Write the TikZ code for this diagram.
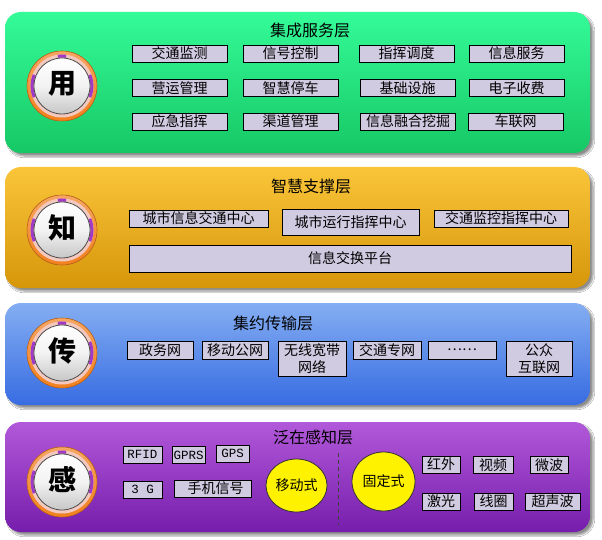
\documentclass[tikz,border=0pt]{standalone}
\usepackage{fontspec}
\newfontfamily\cjk{Noto Sans CJK SC}
\newfontfamily\monof{Liberation Mono}
\usetikzlibrary{shadows.blur,shapes.geometric}
\definecolor{boxfill}{RGB}{209,203,225}
\definecolor{gtop}{RGB}{52,251,152}
\definecolor{gbot}{RGB}{22,200,101}
\definecolor{otop}{RGB}{250,197,58}
\definecolor{obot}{RGB}{214,150,10}
\definecolor{btop}{RGB}{132,174,242}
\definecolor{bbot}{RGB}{56,108,226}
\definecolor{ptop}{RGB}{178,88,218}
\definecolor{pbot}{RGB}{118,30,172}
\definecolor{ringor}{RGB}{242,128,30}
\definecolor{ringpale}{RGB}{243,200,190}
\definecolor{ringpur}{RGB}{160,56,200}
\tikzset{
  layer/.style={rectangle, rounded corners=16pt, inner sep=0pt,
    blur shadow={shadow xshift=3pt, shadow yshift=-3pt, shadow blur steps=6, shadow opacity=45}},
  title/.style={font=\cjk\fontsize{16}{18}\selectfont, inner sep=0pt},
  box/.style={draw=black, line width=0.9pt, fill=boxfill, inner sep=0pt,
    minimum height=17pt, align=center, font=\cjk\fontsize{14}{17}\selectfont},
  mbox/.style={box, font=\monof\fontsize{12.5}{14}\selectfont},
  ell/.style={ellipse, draw=black!80, line width=0.8pt, fill=yellow, inner sep=0pt,
    font=\cjk\fontsize{14}{16}\selectfont},
  emblem/.pic={
    \fill[top color=ringor!70!white, bottom color=ringor] (0,0) circle (35);
    \draw[ringor!80!black, line width=0.6pt] (0,0) circle (35);
    \fill[ringpale] (0,0) circle (31.5);
    \draw[ringpur, line width=3pt] (-22:30) arc[start angle=-22, end angle=22, radius=30];
    \draw[ringpur, line width=3pt] (158:30) arc[start angle=158, end angle=202, radius=30];
    \draw[ringpur, line width=3pt] (262:30) arc[start angle=262, end angle=278, radius=30];
    \shade[top color=white, bottom color=black!22, middle color=white!95!black] (0,0) circle (28);
    \draw[black!70, line width=0.8pt] (0,0) circle (28);
    \node[font=\cjk\bfseries\fontsize{28}{28}\selectfont, inner sep=0pt] (-c) at (0,-2) {#1};
  }
}
\begin{document}
\begin{tikzpicture}[x=1pt,y=-1pt]
\useasboundingbox (0,0) rectangle (602,540);
\fill[white] (0,0) rectangle (602,540);

% ---------- layer 1 ----------
\node[layer, top color=gtop, bottom color=gbot, minimum width=585pt, minimum height=141pt] (L1) at (297.5,82.5) {};
\pic (e1) at (62,86) {emblem=用};
\node[title] (T1) at (310,30) {集成服务层};
\node[box, minimum width=95pt] (a11) at (179.5,53.5) {交通监测};
\node[box, minimum width=95pt] (a12) at (290.5,53.5) {信号控制};
\node[box, minimum width=95pt] (a13) at (406.5,53.5) {指挥调度};
\node[box, minimum width=95pt] (a14) at (516.5,53.5) {信息服务};
\node[box, minimum width=95pt] (a21) at (179.5,88) {营运管理};
\node[box, minimum width=95pt] (a22) at (290.5,88) {智慧停车};
\node[box, minimum width=95pt] (a23) at (407.5,88) {基础设施};
\node[box, minimum width=95pt] (a24) at (516.5,88) {电子收费};
\node[box, minimum width=95pt] (a31) at (179.5,121.5) {应急指挥};
\node[box, minimum width=95pt] (a32) at (290.5,121.5) {渠道管理};
\node[box, minimum width=95pt] (a33) at (408,121.5) {信息融合挖掘};
\node[box, minimum width=95pt] (a34) at (515.5,121.5) {车联网};

% ---------- layer 2 ----------
\node[layer, top color=otop, bottom color=obot, minimum width=585pt, minimum height=121pt] (L2) at (297.5,227.5) {};
\pic (e2) at (62,230) {emblem=知};
\node[title] (T2) at (311,186) {智慧支撑层};
\node[box, minimum width=139pt] (b1) at (198.5,218.5) {城市信息交通中心};
\node[box, minimum width=137pt, minimum height=26pt] (b2) at (350.5,222) {城市运行指挥中心};
\node[box, minimum width=134pt] (b3) at (501,218.5) {交通监控指挥中心};
\node[box, minimum width=442pt, minimum height=27pt] (b4) at (350,258.5) {信息交换平台};

% ---------- layer 3 ----------
\node[layer, top color=btop, bottom color=bbot, minimum width=585pt, minimum height=102pt] (L3) at (297.5,354) {};
\pic (e3) at (62,353) {emblem=传};
\node[title] (T3) at (273,323) {集约传输层};
\node[box, minimum width=66pt, minimum height=18pt] (c1) at (160,350) {政务网};
\node[box, minimum width=66pt, minimum height=18pt] (c2) at (235,350) {移动公网};
\node[box, minimum width=68pt, minimum height=35pt] (c3) at (312,358.5) {无线宽带\\网络};
\node[box, minimum width=68pt, minimum height=18pt] (c4) at (387,350) {交通专网};
\node[box, minimum width=68pt, minimum height=18pt] (c5) at (462,350) {……};
\node[box, minimum width=66pt, minimum height=35pt] (c6) at (539,358.5) {公众\\互联网};

% ---------- layer 4 ----------
\node[layer, top color=ptop, bottom color=pbot, minimum width=585pt, minimum height=110pt] (L4) at (297.5,477) {};
\pic (e4) at (62,482) {emblem=感};
\node[title] (T4) at (313,437) {泛在感知层};
\node[mbox, minimum width=39pt] (d1) at (142.5,454.5) {RFID};
\node[mbox, minimum width=33pt] (d2) at (188.5,455) {GPRS};
\node[mbox, minimum width=33pt] (d3) at (232.5,453.5) {GPS};
\node[mbox, minimum width=39pt] (d4) at (142.5,489.5) {3 G};
\node[box, minimum width=77pt] (d5) at (212.5,488.5) {\hspace*{6pt}手机信号};
\node[ell, minimum width=61pt, minimum height=53pt] (m) at (296.5,485.5) {移动式};
\coordinate (s1) at (338,453);
\coordinate (s2) at (338,525);
\draw[black!75, line width=0.9pt, dash pattern=on 4pt off 3pt] (s1) -- (s2);
\node[ell, minimum width=63pt, minimum height=59pt] (f) at (383.5,481.5) {固定式};
\node[box, minimum width=38pt] (g1) at (441,464.5) {红外};
\node[box, minimum width=40pt] (g2) at (493,465) {视频};
\node[box, minimum width=38pt] (g3) at (549,465) {微波};
\node[box, minimum width=38pt] (g4) at (441,501.5) {激光};
\node[box, minimum width=39pt] (g5) at (493.5,501.5) {线圈};
\node[box, minimum width=55pt] (g6) at (552.5,501.5) {超声波};
\end{tikzpicture}
\end{document}
